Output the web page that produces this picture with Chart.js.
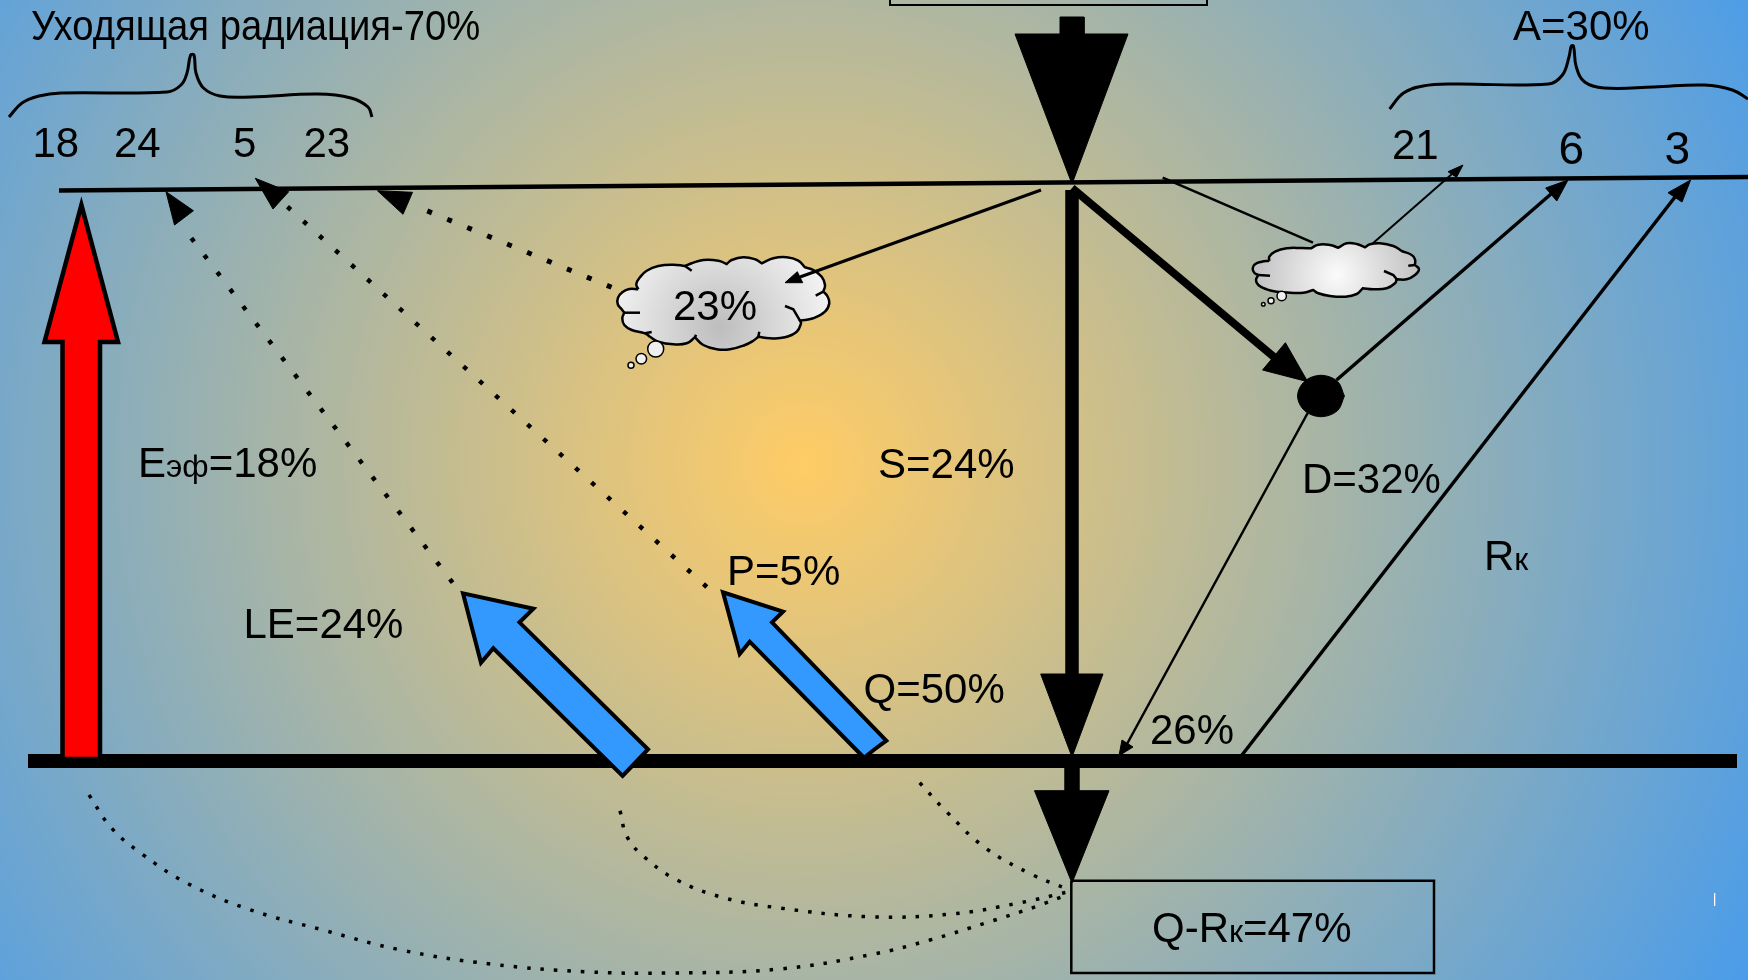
<!DOCTYPE html>
<html>
<head>
<meta charset="utf-8">
<title>Радиационный баланс</title>
<script src="https://cdn.jsdelivr.net/npm/chart.js@4"></script>
<style>
  html, body { margin: 0; padding: 0; width: 1748px; height: 980px; overflow: hidden; }
  body { background: radial-gradient(circle 1077px at 803px 463px, #ffcc66 0%, #4a9cea 100%); }
  canvas { display: block; }
</style>
</head>
<body>
<canvas id="diagram" width="1748" height="980"></canvas>
<script>
// Values, in picture pixels
const topLine = [[59, 190.5], [1748, 177]];
const groundBar = [[28, 761], [1737, 761]];
const topBox = [[890, -20], [890, 5], [1207, 5], [1207, -20]];
const resultBox = [[1071.3, 880.7], [1434, 880.7], [1434, 973], [1071.3, 973], [1071.3, 880.7]];
const whiteTick = [[1714.6, 893], [1714.6, 906]];

const incomingArrow = [[1060, 17], [1084, 17], [1084, 34], [1128, 34], [1072, 184], [1015, 34], [1060, 34], [1060, 17]];
const directShaft = [[1072, 190], [1072, 680]];
const directHead = [[1040.7, 674], [1103, 674], [1072, 757], [1040.7, 674]];
const netShaft = [[1072, 768], [1072, 795]];
const netHead = [[1034.5, 790.7], [1109, 790.7], [1072, 883], [1034.5, 790.7]];

const redArrow = [[81.4, 759], [100, 759], [100, 342], [118, 342], [81.4, 205], [44.5, 342], [62.5, 342], [62.5, 759], [81.4, 759]];
const blueArrowBig = [[635, 763], [622.6, 776], [493.3, 648.3], [481, 662.7], [463, 593.3], [533.4, 608.7], [519.5, 622.3], [648, 749.3], [635, 763]];
const blueArrowSmall = [[875, 749], [864, 757.7], [749.7, 641.7], [739.7, 654], [723, 592.3], [783, 611.7], [772, 622.3], [886.3, 740.7], [875, 749]];

const scatterLine = [[1072, 188], [1274, 357]];
const scatterHead = [[1285.4, 342.7], [1307.7, 381.7], [1262.5, 370], [1285.4, 342.7]];
const scatterPoint = [[1344.4, 396], [1337.5, 410.6], [1321, 416.7], [1304.5, 410.6], [1297.6, 396], [1304.5, 381.4], [1321, 375.3], [1337.5, 381.4], [1344.4, 396]];

const toSixLine = [[1336.6, 380], [1551, 194]];
const toSixHead = [[1545.7, 188], [1568, 180], [1556.8, 201], [1545.7, 188]];
const toThreeLine = [[1242, 755], [1675, 197]];
const toThreeHead = [[1668, 192.7], [1690.6, 180], [1682, 202], [1668, 192.7]];
const diffuseLine = [[1307.7, 413], [1127, 744]];
const diffuseHead = [[1122, 740], [1119, 755.7], [1133, 747], [1122, 740]];

const toCloudLine = [[1041, 190], [800, 277]];
const toCloudHead = [[797.3, 271.7], [785, 282.7], [802.7, 282.7], [797.3, 271.7]];
const toSmallCloudLine = [[1162.7, 177.7], [1313, 242.7]];
const fromSmallCloudLine = [[1371.8, 244.3], [1452, 174]];
const fromSmallCloudHead = [[1448, 171.7], [1463, 165], [1456.5, 177.3], [1448, 171.7]];

const latentDots = [[452.6, 582.7], [186, 231]];
const latentHead = [[166, 191.7], [193.4, 210.7], [174.5, 225], [166, 191.7]];
const sensibleDots = [[706.8, 587], [280, 200]];
const sensibleHead = [[255.3, 178.3], [288.7, 191.7], [273, 209], [255.3, 178.3]];
const cloudDots = [[611.5, 287.3], [413, 205]];
const cloudDotsHead = [[377.4, 190.7], [412.5, 192.3], [403, 214.3], [377.4, 190.7]];

const groundCurveLong = [[89, 795], [111.5, 828], [142, 854], [186.7, 883], [248, 909], [323, 930], [401, 950], [490.5, 964], [585, 971.7], [669, 973], [780, 969], [874, 954], [930, 940], [985.5, 923], [1035.6, 906.7], [1069, 894]];
const groundCurveMid = [[620, 810.7], [627, 836.7], [644, 856.7], [677, 880], [724.6, 898], [780, 908], [869.6, 916.7], [952, 914], [1019, 903], [1069, 891.7]];
const groundCurveShort = [[919.7, 782.7], [946.5, 811.7], [985.5, 848], [1033, 875], [1070, 890]];

const leftBrace = [[9, 117], [22, 103], [39, 96], [61, 93], [167, 92], [181, 85], [187, 73], [190.6, 55], [194, 55], [196, 73], [203.5, 88], [220, 96], [251, 97], [318, 94], [351, 98], [368, 107], [372, 117]];
const rightBrace = [[1389.6, 109], [1403.5, 93], [1423, 86], [1453.7, 84], [1548.5, 84], [1562.4, 75], [1569, 57], [1571.3, 46], [1573.5, 46], [1576.3, 67], [1584.7, 82], [1604, 88], [1654, 87], [1704.5, 85], [1732.4, 90], [1748, 99]];

// doubled points are the sharp notches between the puffs
const bigCloud = [[638.3, 289.3], [638.3, 289.3], [629.3, 289], [622.3, 292.3], [618, 297.7], [617.7, 304], [621.7, 309.3], [624.3, 312.7], [624.3, 312.7], [622.3, 318.3], [624.3, 325], [631.7, 330], [645, 333.3], [650, 336.7], [650, 336.7], [658.3, 341.7], [673.3, 344.3], [686.7, 343.3], [695, 337.3], [695, 337.3], [703.3, 345], [716.7, 349.3], [730, 349.3], [745, 345], [753.3, 340.7], [758.3, 336.7], [758.3, 336.7], [770, 338.3], [785, 337.3], [796.7, 331.7], [801, 323.3], [800, 320.7], [800, 320.7], [813.3, 318.3], [825, 311.7], [829.3, 303.3], [827.3, 296], [823.3, 291.7], [823.3, 291.7], [825, 285], [821.7, 276.7], [813.3, 270], [805, 267.3], [805, 267.3], [798.3, 260.7], [786.7, 257.3], [773.3, 258.3], [761.7, 263.3], [761.7, 263.3], [755, 259.3], [743.3, 257.3], [731.7, 260], [726.7, 264], [726.7, 264], [718.3, 260.7], [703.3, 260], [691.7, 263.3], [685, 266], [685, 266], [673.3, 264.7], [658.3, 266], [646.7, 270.7], [640, 277.3], [636.3, 284], [638.3, 289.3], [638.3, 289.3]];
const bigCloudFolds = [
  [[640, 312.7], [624.3, 312.7]],
  [[785, 306], [793.3, 309.3], [800, 320.7]],
  [[823.3, 291.7], [815.7, 295.7]],
  [[691.7, 270.7], [685, 266]],
  [[645, 333.3], [651.7, 332]],
  [[695, 337.3], [696, 334.7]],
  [[758.3, 336.7], [759.3, 331.7]]
];
const bigCloudBubbles = [[655.7, 349], [641.3, 358.7], [631, 365.3]];

const smallCloud = [[1269.3, 260.7], [1269.3, 260.7], [1261.7, 261.7], [1255, 264.3], [1252.7, 268.3], [1254.3, 272.7], [1258.3, 275], [1258.3, 275], [1256, 280], [1258.3, 285], [1266.7, 289.3], [1276.7, 291.7], [1290, 292.7], [1303.3, 292.7], [1313.3, 290], [1313.3, 290], [1318.3, 293.3], [1330, 296], [1345, 296.7], [1356.7, 294], [1362.7, 288.3], [1362.7, 288.3], [1373.3, 289.3], [1386.7, 288.3], [1395, 283.3], [1396.7, 279.3], [1396.7, 279.3], [1406.7, 279.3], [1415, 275], [1419, 269.3], [1415, 265], [1415, 265], [1415, 259.3], [1411.7, 255], [1401.7, 251], [1401.7, 251], [1393.3, 246], [1380, 243.3], [1370, 244.3], [1365, 247.3], [1365, 247.3], [1356.7, 244], [1346.7, 243.3], [1338.3, 247.7], [1338.3, 247.7], [1330, 245], [1318.3, 244.7], [1311, 248.3], [1311, 248.3], [1301.7, 248], [1286.7, 248.3], [1275, 251.7], [1269.3, 256.7], [1269.3, 260.7], [1269.3, 260.7]];
const smallCloudFolds = [
  [[1270, 275.7], [1258.3, 275]],
  [[1384, 271], [1393.3, 275], [1396.7, 279.3]],
  [[1415, 265], [1408.3, 265.7]]
];
const smallCloudBubbles = [[1281.7, 296], [1271, 300.7], [1263.3, 304.3]];

const FONT = '"Liberation Sans", Arial, sans-serif';
const BIG = 42;
const SMALL = 32;

// [left, baseline, size, [text, sub-text, text...], width squeeze]: every second piece is set small
const textLabels = [
  [31, 40, BIG, ['Уходящая радиация-70%'], 0.91],
  [32.5, 157, BIG, ['18']],
  [114, 157, BIG, ['24']],
  [233, 157, BIG, ['5']],
  [303.5, 157, BIG, ['23']],
  [1392, 159, BIG, ['21']],
  [1558.5, 164, 46, ['6']],
  [1664.5, 164, 46, ['3']],
  [1513, 40, BIG, ['A=30%']],
  [673, 320, BIG, ['23%']],
  [138, 477, BIG, ['E', 'эф', '=18%']],
  [243.5, 638, BIG, ['LE=24%']],
  [727, 585, BIG, ['P=5%']],
  [878, 478, BIG, ['S=24%']],
  [1302, 493, BIG, ['D=32%']],
  [1484, 570, BIG, ['R', 'к']],
  [863.5, 703, BIG, ['Q=50%']],
  [1150, 744, BIG, ['26%']],
  [1152, 942, BIG, ['Q-R', 'к', '=47%']]
];

function pts(list) {
  return list.map(p => ({ x: p[0], y: p[1] }));
}

function line(list, width, extra) {
  return Object.assign({
    data: pts(list),
    showLine: true,
    pointRadius: 0,
    borderColor: '#000',
    backgroundColor: 'transparent',
    borderWidth: width,
    borderCapStyle: 'butt',
    borderJoinStyle: 'miter',
    fill: false
  }, extra);
}

function shape(list, color, width, extra) {
  return line(list, width || 1, Object.assign({ fill: 'shape', backgroundColor: color, borderColor: width ? '#000' : color }, extra));
}

function dots(list, width, dash, extra) {
  return line(list, width, Object.assign({ borderDash: dash }, extra));
}

function cloudFill(cx, cy, radius, inner, outer) {
  return function (ctx) {
    const chart = ctx.chart;
    const px = chart.scales.x.getPixelForValue(cx);
    const py = chart.scales.y.getPixelForValue(cy);
    // scales have no size yet on the first pass
    if (!isFinite(px) || !isFinite(py)) return outer;
    const g = chart.ctx.createRadialGradient(px, py, 0, px, py, radius);
    g.addColorStop(0, inner);
    g.addColorStop(1, outer);
    return g;
  };
}

function bubbles(list, sizes) {
  return {
    data: pts(list),
    showLine: false,
    pointStyle: 'circle',
    pointRadius: sizes,
    pointBackgroundColor: '#efefef',
    pointBorderColor: '#000',
    pointBorderWidth: 1.5
  };
}

const curve = { tension: 0.4 };

// listed back to front
const layers = [
  line(topBox, 2),
  line(topLine, 4.5),
  dots(latentDots, 4.5, [4.5, 16.9]),
  shape(latentHead, '#000'),
  dots(sensibleDots, 4.5, [4.5, 17.1]),
  shape(sensibleHead, '#000'),
  dots(cloudDots, 5, [5, 16.6]),
  shape(cloudDotsHead, '#000'),
  dots(groundCurveLong, 3.5, [3.5, 10], curve),
  dots(groundCurveMid, 3.5, [3.5, 10], curve),
  dots(groundCurveShort, 3.5, [3.5, 10], curve),
  line(leftBrace, 3, curve),
  line(rightBrace, 3, curve),
  line(toSmallCloudLine, 2.5),
  line(fromSmallCloudLine, 2),
  shape(fromSmallCloudHead, '#000'),
  line(bigCloud, 2.5, { fill: 'shape', tension: 0.45, backgroundColor: cloudFill(720, 327, 115, '#bdbdbd', '#f4f4f4') }),
  ...bigCloudFolds.map(f => line(f, 2.5)),
  bubbles(bigCloudBubbles, [8, 5.3, 3]),
  line(toCloudLine, 3),
  shape(toCloudHead, '#000'),
  line(smallCloud, 2.5, { fill: 'shape', tension: 0.45, backgroundColor: cloudFill(1337, 275, 85, '#fbfbfb', '#bfbfbf') }),
  ...smallCloudFolds.map(f => line(f, 2.5)),
  bubbles(smallCloudBubbles, [4.7, 3, 1.8]),
  line(resultBox, 2.5),
  line(groundBar, 14),
  line(whiteTick, 1, { borderColor: '#ffffff' }),
  line(directShaft, 13.5),
  shape(directHead, '#000'),
  line(netShaft, 15.5),
  shape(netHead, '#000'),
  shape(incomingArrow, '#000'),
  line(scatterLine, 8),
  shape(scatterHead, '#000'),
  shape(scatterPoint, '#000', 0, { tension: 0.35 }),
  line(toSixLine, 3.5),
  shape(toSixHead, '#000'),
  line(toThreeLine, 3.5),
  shape(toThreeHead, '#000'),
  line(diffuseLine, 2.5),
  shape(diffuseHead, '#000'),
  shape(redArrow, '#ff0000', 4.5),
  shape(blueArrowBig, '#3399ff', 4),
  shape(blueArrowSmall, '#3399ff', 4)
];
layers.forEach((d, i) => { d.order = layers.length - i; });

const labelPlugin = {
  id: 'labels',
  afterDatasetsDraw(chart) {
    const ctx = chart.ctx;
    ctx.fillStyle = '#000';
    ctx.textBaseline = 'alphabetic';
    ctx.textAlign = 'left';
    textLabels.forEach(item => {
      const squeeze = item[4] || 1;
      let px = chart.scales.x.getPixelForValue(item[0]);
      const py = chart.scales.y.getPixelForValue(item[1]);
      item[3].forEach((piece, i) => {
        ctx.save();
        ctx.font = (i % 2 ? SMALL : item[2]) + 'px ' + FONT;
        ctx.translate(px, py);
        ctx.scale(squeeze, 1);
        ctx.fillText(piece, 0, 0);
        px += ctx.measureText(piece).width * squeeze;
        ctx.restore();
      });
    });
  }
};

new Chart(document.getElementById('diagram'), {
  type: 'scatter',
  data: { datasets: layers },
  plugins: [labelPlugin],
  options: {
    responsive: false,
    animation: false,
    devicePixelRatio: 1,
    events: [],
    layout: { padding: 0, autoPadding: false },
    plugins: { legend: { display: false }, tooltip: { enabled: false }, title: { display: false } },
    scales: {
      x: { type: 'linear', min: 0, max: 1748, display: false },
      y: { type: 'linear', min: 0, max: 980, reverse: true, display: false }
    }
  }
});
</script>
</body>
</html>
